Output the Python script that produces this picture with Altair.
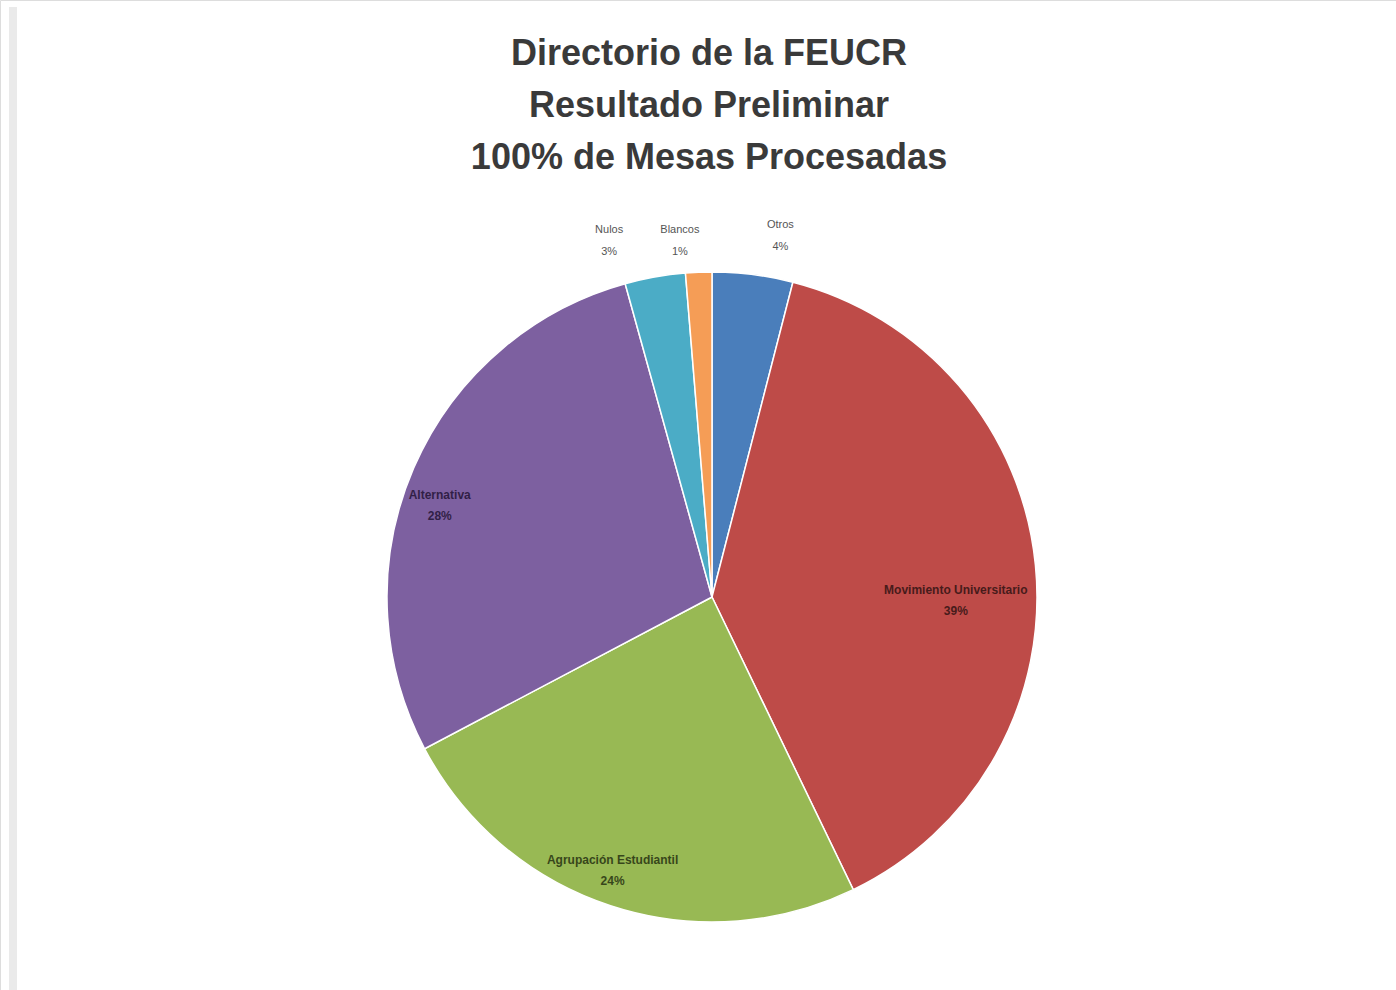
import altair as alt
import pandas as pd

title_lines = ["Directorio de la FEUCR", "Resultado Preliminar", "100% de Mesas Procesadas"]

categories = ["Otros", "Movimiento Universitario", "Agrupación Estudiantil", "Alternativa", "Nulos", "Blancos"]
values = [4.0, 38.8, 24.4, 28.4, 3.0, 1.3]
pct_labels = ["4%", "39%", "24%", "28%", "3%", "1%"]
colors = ["#4A7EBB", "#BE4B48", "#98B954", "#7D60A0", "#4BACC6", "#F59D56"]

df = pd.DataFrame({
    "cat": categories,
    "value": values,
    "order": list(range(len(categories))),
    "label": [f"{c}\n{p}" for c, p in zip(categories, pct_labels)],
})

CX, CY, R = 712, 597, 325

base = alt.Chart(df).encode(
    theta=alt.Theta("value:Q", stack=True),
    order=alt.Order("order:Q", sort="ascending"),
    x=alt.value(CX),
    y=alt.value(CY),
)

arcs = base.mark_arc(outerRadius=R, stroke="white", strokeWidth=1.5).encode(
    color=alt.Color("cat:N", scale=alt.Scale(domain=categories, range=colors), legend=None)
)


def label(cat, radius, dx, dy, size, color, weight, lh, opacity=1.0):
    return base.mark_text(radius=radius, dx=dx, dy=dy, lineBreak="\n", fontSize=size,
                          fontWeight=weight, color=color, font="Liberation Sans",
                          lineHeight=lh, opacity=opacity).encode(
        text=alt.condition(alt.datum.cat == cat, "label:N", alt.value(""))
    )


labels = [
    label("Movimiento Universitario", 245, 0, 17, 12, "#2a1010", "bold", 21, 0.8),
    label("Agrupación Estudiantil", 280, -12, -3, 12, "#1e2a0e", "bold", 21, 0.8),
    label("Alternativa", 290, -6, 13, 12, "#1e1030", "bold", 21, 0.8),
    label("Otros", 370, 22, -5, 11, "#555555", "normal", 22),
    label("Nulos", 370, -38, -3, 11, "#555555", "normal", 22),
    label("Blancos", 370, -17, 3, 11, "#555555", "normal", 22),
]

title = alt.Chart(pd.DataFrame({"t": ["\n".join(title_lines)]})).mark_text(
    lineBreak="\n", fontSize=36, fontWeight="bold", color="#3a3a3a",
    font="Liberation Sans", lineHeight=52, baseline="middle", align="center"
).encode(text="t:N", x=alt.value(709), y=alt.value(54))

frame = alt.Chart(pd.DataFrame({"a": [0]})).mark_rule(color="#eaeaea", strokeWidth=8).encode(
    x=alt.value(13), y=alt.value(7), y2=alt.value(990)
)

chart = alt.layer(frame, arcs, *labels, title).properties(
    width=1396, height=990, padding=0, autosize=alt.AutoSizeParams(type="none")
).configure_view(stroke=None).configure(background="white")

chart.save("out.html", embed_options={"renderer": "svg", "actions": False})
